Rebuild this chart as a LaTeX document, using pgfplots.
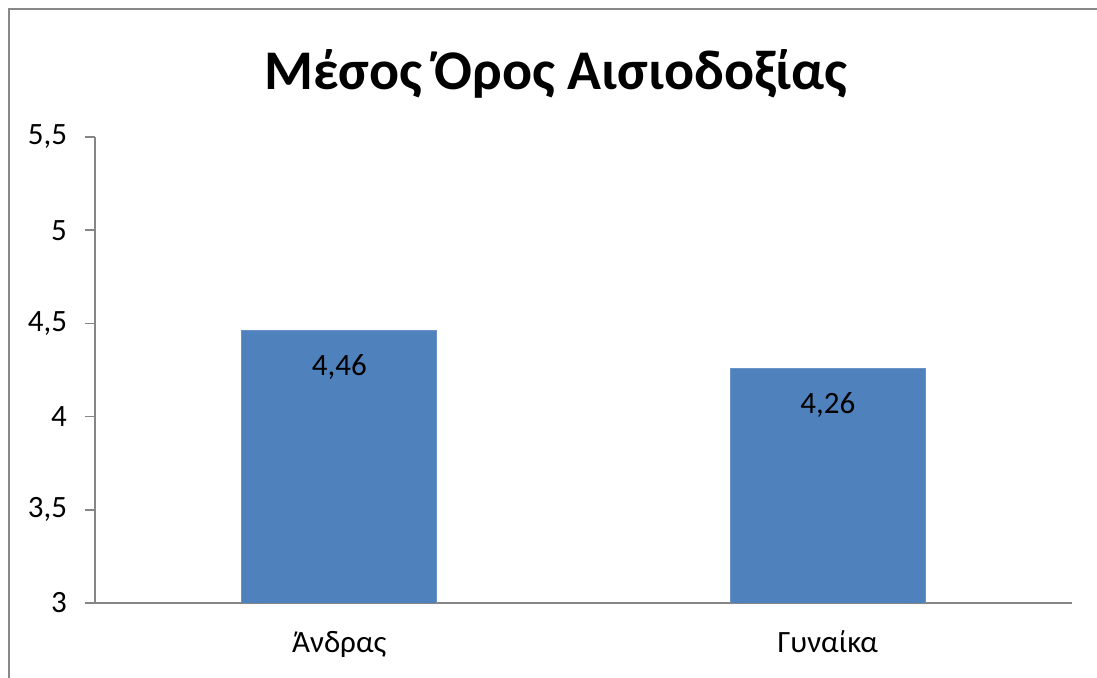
\documentclass[border=0pt]{standalone}
\usepackage{pgfplots}
\pgfplotsset{compat=1.18}
\usepackage{fontspec}
\setmainfont{Carlito}
\definecolor{barblue}{HTML}{4F81BD}
\definecolor{baredge}{HTML}{6A94C8}
\definecolor{axisgray}{HTML}{868686}
\definecolor{framegray}{HTML}{888888}
\begin{document}
\begin{tikzpicture}
% page area and outer chart frame
\clip (0,0) rectangle (548.5bp,339bp);
\fill[white] (0,0) rectangle (548.5bp,339bp);
\draw[framegray, line width=1.2bp] (4.5bp,-20bp) rectangle (580bp,334.5bp);
% title
\node[anchor=base, font=\fontsize{28bp}{34bp}\selectfont\bfseries]
  at (278bp,294bp) {Μέσος Όρος Αισιοδοξίας};
\begin{axis}[
  at={(47.5bp,37.5bp)}, anchor=south west,
  scale only axis, width=488.5bp, height=233bp,
  xmin=-0.5, xmax=1.5, ymin=3, ymax=5.5,
  axis lines*=left,
  axis line style={axisgray, line width=0.8bp},
  tick style={axisgray, line width=0.8bp},
  tick align=outside, major tick length=5bp,
  ytick={3,3.5,4,4.5,5,5.5},
  yticklabel style={/pgf/number format/use comma, xshift=-5.5bp},
  xtick={0,1}, xticklabels={Άνδρας,Γυναίκα},
  xtick style={draw=none},
  x tick label style={yshift=-5.5bp},
  extra x ticks={-0.5,0.5,1.5}, extra x tick labels={},
  extra x tick style={tick style={axisgray, line width=0.8bp}},
  ticklabel style={font=\fontsize{15.5bp}{18bp}\selectfont},
  /pgf/number format/assume math mode=true,
  ybar, bar width=97.5bp,
  nodes near coords,
  every node near coord/.append style={
    /pgf/number format/use comma, /pgf/number format/fixed,
    /pgf/number format/fixed zerofill, /pgf/number format/precision=2,
    anchor=base, yshift=-22.5bp, font=\fontsize{15.5bp}{18bp}\selectfont, text=black},
]
\addplot[fill=barblue, draw=baredge, line width=0.5bp] coordinates {(0,4.46) (1,4.26)};
\end{axis}
\end{tikzpicture}
\end{document}
